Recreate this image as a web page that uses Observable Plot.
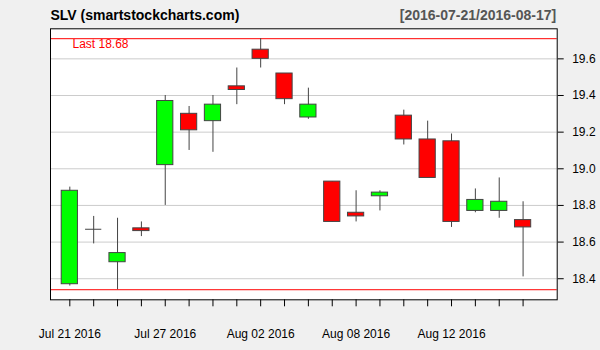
<!DOCTYPE html>
<html>
<head>
<meta charset="utf-8">
<script src="https://cdn.jsdelivr.net/npm/d3@7"></script>
<script src="https://cdn.jsdelivr.net/npm/@observablehq/plot@0.6"></script>
<style>
  html, body { margin: 0; padding: 0; background: #f0f0f0; }
  #chart { width: 600px; height: 350px; }
</style>
</head>
<body>
<div id="chart"></div>
<script>
const symbol = "SLV";
const source = "smartstockcharts.com";
const dates = ["2016-07-21","2016-07-22","2016-07-25","2016-07-26","2016-07-27","2016-07-28","2016-07-29",
  "2016-08-01","2016-08-02","2016-08-03","2016-08-04","2016-08-05","2016-08-08","2016-08-09",
  "2016-08-10","2016-08-11","2016-08-12","2016-08-15","2016-08-16","2016-08-17"];
const opens  = [18.37,18.67,18.49,18.675,19.02,19.30,19.26,19.45,19.65,19.52,19.28,18.93,18.76,18.85,19.29,19.16,19.15,18.77,18.77,18.72];
const highs  = [18.90,18.74,18.73,18.71,19.40,19.34,19.40,19.55,19.71,19.52,19.44,18.93,18.88,18.88,19.32,19.26,19.19,18.89,18.95,18.82];
const lows   = [18.36,18.59,18.34,18.63,18.80,19.10,19.09,19.35,19.55,19.35,19.27,18.71,18.71,18.77,19.13,18.95,18.68,18.76,18.73,18.41];
const closes = [18.88,18.67,18.54,18.66,19.37,19.21,19.35,19.43,19.60,19.38,19.35,18.71,18.74,18.87,19.16,18.95,18.71,18.83,18.82,18.68];
const yTicks = [18.4, 18.6, 18.8, 19.0, 19.2, 19.4, 19.6];
const labelEvery = 4;

const data = dates.map((d, i) => ({
  i, date: d3.utcParse("%Y-%m-%d")(d),
  open: opens[i], high: highs[i], low: lows[i], close: closes[i]
}));
const n = data.length;
const maxHigh = d3.max(highs);
const minLow = d3.min(lows);
const fmt = d3.utcFormat("%b %d %Y");
const half = 0.34;
const bodies = data.filter(d => d.open !== d.close);
const dojis = data.filter(d => d.open === d.close);

const plot = Plot.plot({
  width: 600,
  height: 350,
  marginLeft: 50,
  marginRight: 43.3,
  marginTop: 28.3,
  marginBottom: 50.7,
  style: { background: "#f0f0f0", fontFamily: "'Liberation Sans', Arial, sans-serif", fontSize: "12px", color: "black" },
  x: { type: "linear", domain: [-0.81, n - 1 + 1.43] },
  y: { domain: [18.285, 19.764] },
  marks: [
    Plot.frame({ fill: "white" }),
    Plot.ruleY(yTicks, { stroke: "#cccccc", strokeWidth: 1 }),
    Plot.ruleY([maxHigh, minLow], { stroke: "#ff0000", strokeWidth: 1 }),
    Plot.ruleX(data, { x: "i", y1: "low", y2: "high", stroke: "#444444", strokeWidth: 1 }),
    Plot.rect(bodies, {
      x1: d => d.i - half, x2: d => d.i + half,
      y1: "open", y2: "close",
      fill: d => d.close > d.open ? "#00ff00" : "#ff0000",
      stroke: "#444444", strokeWidth: 1
    }),
    Plot.ruleY(dojis, {
      y: "open", x1: d => d.i - half, x2: d => d.i + half,
      stroke: "#444444", strokeWidth: 1
    }),
    Plot.frame({ stroke: "black", strokeWidth: 1 }),
    Plot.axisY(yTicks, { anchor: "right", tickSize: 6, tickPadding: 9, tickFormat: d => d.toFixed(1), fontSize: 12, label: null }),
    Plot.axisX(d3.range(n), {
      anchor: "bottom", tickSize: 7, tickPadding: 23, fontSize: 12, label: null,
      tickFormat: i => i % labelEvery === 0 ? fmt(data[i].date) : ""
    }),
    Plot.text([`${symbol} (${source})`], {
      frameAnchor: "top-left", textAnchor: "start", lineAnchor: "middle",
      dy: -13, fontSize: 14, fontWeight: "bold", fill: "black"
    }),
    Plot.text([`[${dates[0]}/${dates[n - 1]}]`], {
      frameAnchor: "top-right", textAnchor: "end", lineAnchor: "middle",
      dx: -1, dy: -13, fontSize: 14, fontWeight: "bold", fill: "#555555"
    }),
    Plot.text([`Last ${closes[n - 1].toFixed(2)}`], {
      frameAnchor: "top-left", textAnchor: "start", lineAnchor: "middle",
      dx: 22, dy: 15.5, fontSize: 12, fill: "#ff0000"
    })
  ]
});
document.getElementById("chart").appendChild(plot);
</script>
</body>
</html>
